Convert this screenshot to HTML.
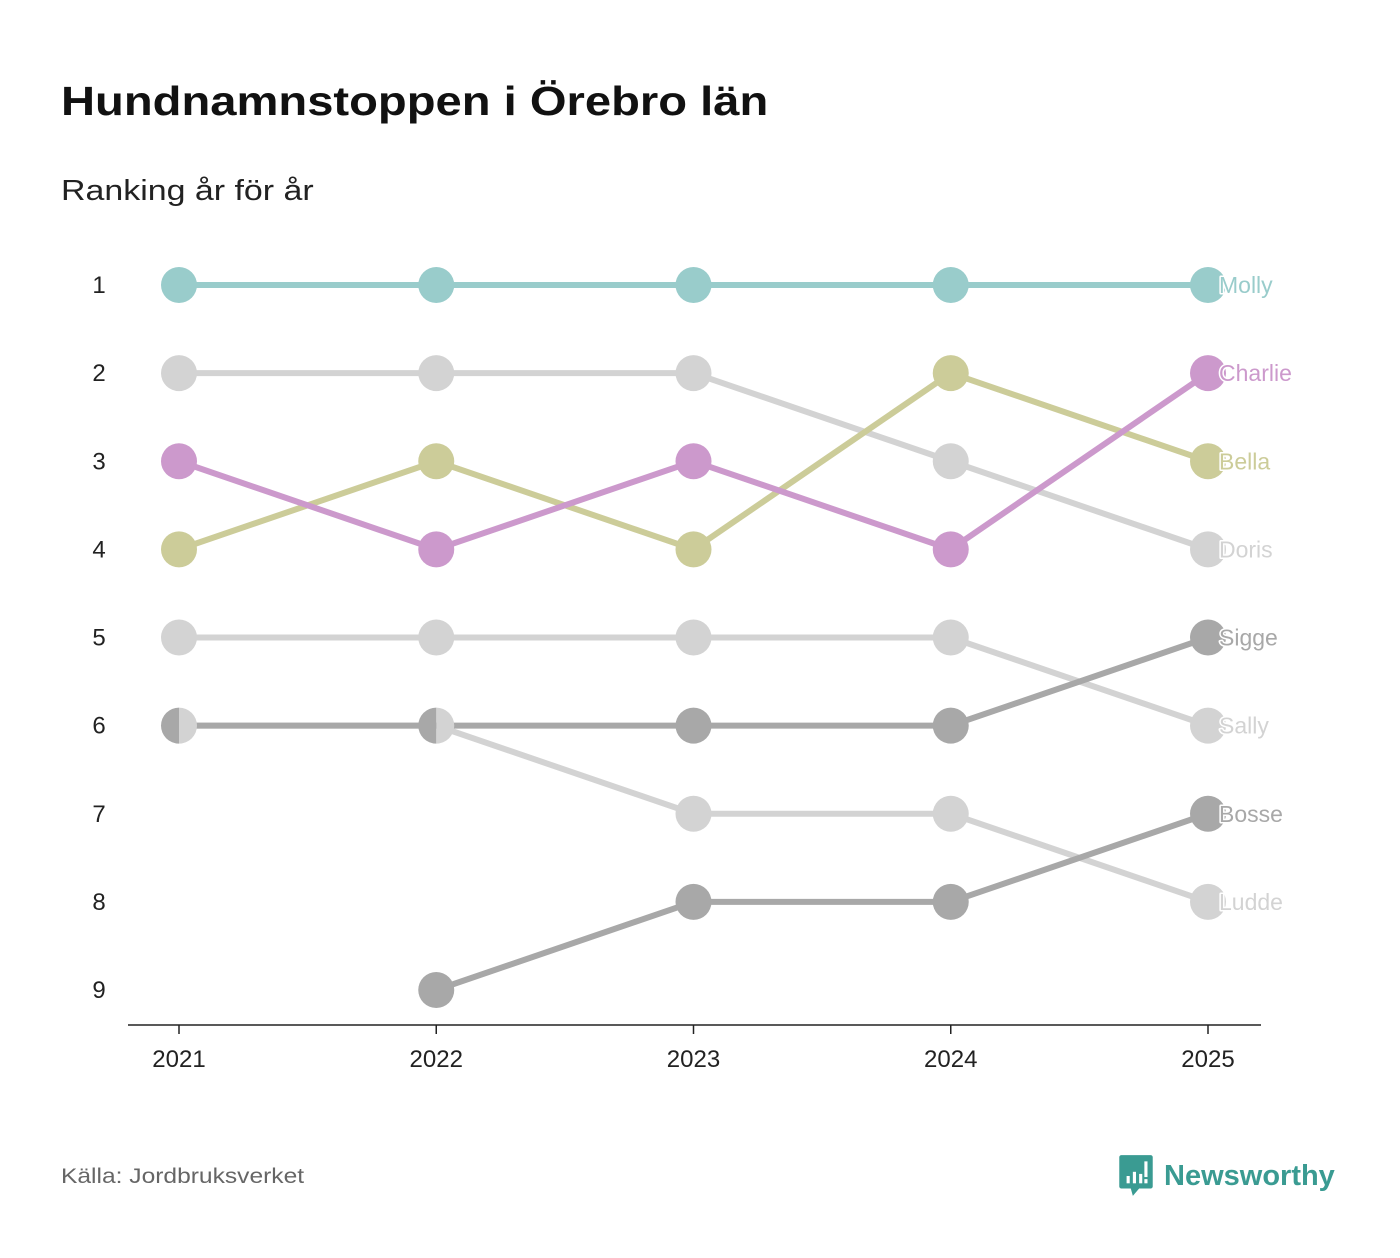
<!DOCTYPE html>
<html><head><meta charset="utf-8"><style>
body{margin:0;background:#fff;font-family:"Liberation Sans","DejaVu Sans",sans-serif;}
#wrap{position:relative;width:1400px;height:1258px;overflow:hidden}
h1{position:absolute;left:61px;top:78px;margin:0;font-size:41px;font-weight:bold;color:#111;transform:scaleX(1.15);transform-origin:left;white-space:nowrap}
.sub{position:absolute;left:61px;top:175px;font-size:29px;color:#222;transform:scaleX(1.17);transform-origin:left;white-space:nowrap}
.src{position:absolute;left:61px;top:1165px;font-size:21px;color:#666;transform:scaleX(1.17);transform-origin:left;white-space:nowrap}
.logo{position:absolute;left:1118px;top:1153px;display:flex;align-items:center;}
.logo span{font-size:29px;font-weight:bold;color:#3a9b92;margin-left:10px;}
</style></head><body>
<div id="wrap">
<h1>Hundnamnstoppen i Örebro län</h1>
<div class="sub">Ranking år för år</div>
<svg id="chart" width="1400" height="1258" style="position:absolute;left:0;top:0"></svg>
<div class="src">Källa: Jordbruksverket</div>
<div class="logo">
<svg width="36" height="46" viewBox="0 0 34 44"><path d="M3 2h28a2 2 0 0 1 2 2v28a2 2 0 0 1-2 2H20l-6 7l-2-7H3a2 2 0 0 1-2-2V4a2 2 0 0 1 2-2z" fill="#3a9b92"/><rect x="8" y="22" width="3" height="7" fill="#fff"/><rect x="14" y="18" width="3" height="11" fill="#fff"/><rect x="20" y="20" width="3" height="9" fill="#fff"/><rect x="25" y="8" width="3" height="15" fill="#fff"/><rect x="25" y="25" width="3" height="4" fill="#fff"/></svg>
<span>Newsworthy</span></div>
</div>
<script>
const years=[2021,2022,2023,2024,2025];
const rankTicks=[1,2,3,4,5,6,7,8,9];
const names=["Doris","Sally","Ludde","Sigge","Bosse","Bella","Charlie","Molly"];
const colors=["#d3d3d3","#d3d3d3","#d3d3d3","#a8a8a8","#a8a8a8","#cccc99","#cc99cc","#99cccb"];
const ranksDoris=[2,2,2,3,4];
const ranksSally=[5,5,5,5,6];
const ranksLudde=[6,6,7,7,8];
const ranksSigge=[6,6,6,6,5];
const ranksBosse=[null,9,8,8,7];
const ranksBella=[4,3,4,2,3];
const ranksCharlie=[3,4,3,4,2];
const ranksMolly=[1,1,1,1,1];
const series=[ranksDoris,ranksSally,ranksLudde,ranksSigge,ranksBosse,ranksBella,ranksCharlie,ranksMolly];
const NS="http://www.w3.org/2000/svg";
const svg=document.getElementById('chart');
const x=i=>179+i*(1208-179)/(years.length-1);
const y=r=>285+(r-1)*(990-285)/8;
function el(t,a){const e=document.createElementNS(NS,t);for(const k in a)e.setAttribute(k,a[k]);svg.appendChild(e);return e;}
let ax=el('line',{x1:128,x2:1261,y1:1025,y2:1025,stroke:'#222','stroke-width':1.5});


years.forEach((yr,i)=>{
 let t=el('line',{x1:x(i),x2:x(i),y1:1025,y2:1034,stroke:'#222','stroke-width':1.5});
 
 
 let l=el('text',{x:x(i),y:1067,'text-anchor':'middle','font-size':24,fill:'#222'});l.textContent=yr;
 
 
});
rankTicks.forEach(r=>{
 let l=el('text',{x:99,y:y(r)+8,'text-anchor':'middle','font-size':24,fill:'#222'});l.textContent=r;
 
 
});
series.forEach((s,k)=>{
 let d='';s.forEach((r,i)=>{if(r==null)return;d+=(d?'L':'M')+x(i)+' '+y(r);});
 let p=el('path',{d:d,fill:'none',stroke:colors[k],'stroke-width':6});
 
 
});
const R=18;
series.forEach((s,k)=>{
 s.forEach((r,i)=>{
  if(r==null)return;
  const ties=[];series.forEach((o,j)=>{if(o[i]===r)ties.push(j);});
  let c;
  if(ties.length>1){
   const left=ties[ties.length-1]===k;
   const cx=x(i),cy=y(r);
   const dd=`M${cx} ${cy-R}A${R} ${R} 0 0 ${left?0:1} ${cx} ${cy+R}Z`;
   c=el('path',{d:dd,fill:colors[k]});
  } else c=el('circle',{cx:x(i),cy:y(r),r:R,fill:colors[k]});
  
  
 });
});
series.forEach((s,k)=>{
 const last=s[s.length-1];
 let l=el('text',{x:1219,y:y(last)+8,'font-size':23,fill:colors[k],stroke:'#fff','stroke-width':3,'paint-order':'stroke','stroke-linejoin':'round'});l.textContent=names[k];
 
 
});
</script>
</body></html>
